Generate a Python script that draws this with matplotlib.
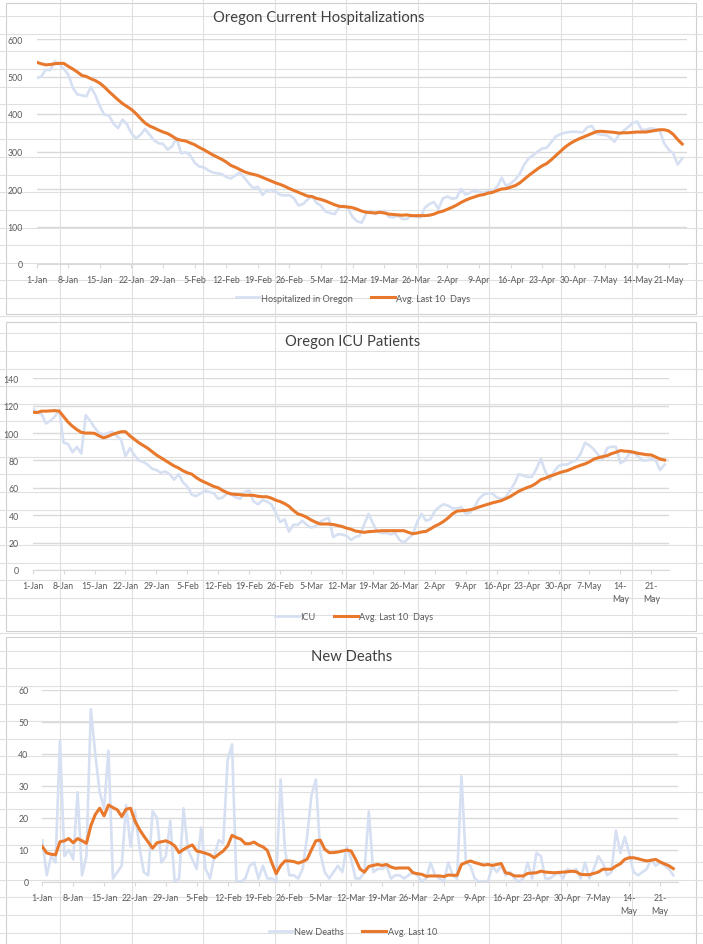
import numpy as np
import matplotlib
matplotlib.use('Agg')
from matplotlib import pyplot as plt
from matplotlib.lines import Line2D
from matplotlib.patches import Rectangle

# ---- data (1-Jan .. 24-May, one value per day) ----
tick_labels = ['1-Jan', '8-Jan', '15-Jan', '22-Jan', '29-Jan', '5-Feb', '12-Feb',
               '19-Feb', '26-Feb', '5-Mar', '12-Mar', '19-Mar', '26-Mar', '2-Apr',
               '9-Apr', '16-Apr', '23-Apr', '30-Apr', '7-May', '14-May', '21-May']

hosp_daily = [496, 500, 518, 517, 540, 534, 520, 505, 470, 452,
              450, 447, 472, 450, 420, 398, 396, 375, 362, 385,
              372, 348, 335, 345, 360, 345, 330, 322, 320, 305,
              314, 336, 295, 298, 290, 270, 260, 258, 250, 244,
              242, 240, 232, 228, 236, 244, 230, 215, 202, 206,
              184, 196, 197, 193, 184, 183, 184, 175, 156, 160,
              172, 180, 163, 155, 140, 136, 133, 150, 156, 147,
              125, 114, 110, 135, 142, 133, 138, 142, 126, 124,
              129, 120, 120, 129, 126, 124, 150, 160, 165, 147,
              175, 180, 174, 176, 200, 185, 190, 196, 192, 190,
              194, 196, 205, 230, 208, 215, 225, 240, 265, 282,
              290, 300, 308, 310, 325, 340, 346, 350, 352, 353,
              352, 351, 365, 368, 348, 345, 344, 338, 326, 345,
              355, 365, 375, 380, 358, 358, 362, 360, 356, 322,
              305, 295, 265, 282]
hosp_avg = [538, 534, 531, 532, 534, 535, 535, 527, 520, 512,
            503, 500, 494, 489, 482, 472, 460, 449, 438, 428,
            420, 412, 401, 388, 376, 368, 363, 357, 352, 348,
            341, 333, 330, 328, 323, 318, 311, 305, 298, 291,
            285, 279, 272, 263, 258, 252, 246, 242, 239, 236,
            231, 226, 221, 216, 212, 207, 201, 196, 191, 186,
            181, 180, 175, 172, 168, 163, 158, 154, 153, 152,
            150, 146, 141, 138, 137, 136, 138, 136, 133, 132,
            131, 130, 131, 129, 129, 129, 129, 130, 133, 138,
            141, 146, 151, 157, 164, 170, 175, 179, 183, 185,
            189, 191, 196, 200, 201, 205, 209, 216, 226, 236,
            245, 254, 262, 268, 278, 289, 300, 311, 320, 327,
            333, 338, 343, 348, 353, 354, 353, 352, 351, 349,
            350, 350, 351, 352, 352, 352, 354, 356, 358, 358,
            355, 346, 332, 320]

icu_daily = [118, 115, 114, 107, 109, 112, 117, 93, 92, 86,
             90, 85, 113, 109, 104, 100, 99, 100, 101, 98,
             95, 83, 89, 84, 80, 79, 77, 74, 73, 71,
             72, 70, 66, 70, 64, 61, 55, 54, 56, 58,
             57, 56, 52, 53, 56, 55, 53, 52, 57, 58,
             50, 48, 51, 50, 48, 42, 35, 37, 28, 33,
             33, 36, 33, 31, 32, 35, 37, 38, 24, 26,
             26, 25, 22, 24, 25, 33, 41, 34, 28, 27,
             27, 26, 27, 22, 20, 23, 26, 35, 41, 36,
             37, 43, 46, 48, 47, 45, 45, 46, 41, 42,
             46, 52, 55, 56, 56, 53, 52, 53, 58, 63,
             70, 69, 68, 68, 74, 81, 72, 66, 72, 76,
             77, 77, 79, 80, 85, 93, 91, 88, 84, 81,
             89, 90, 90, 78, 80, 85, 86, 83, 80, 80,
             81, 80, 73, 77]
icu_avg = [115.2, 115, 116, 116, 116.2, 116.4, 116, 112, 108, 105,
           102.5, 100.5, 100, 100, 99.8, 98, 96.5, 97.5, 99, 100,
           101, 101, 98, 95.5, 93, 91, 89, 86.5, 84, 82,
           80, 78, 76, 74.5, 72.5, 71, 70, 67.5, 65.5, 64,
           62.5, 61, 60, 58, 56.5, 55.5, 55.2, 55, 54.6, 54.6,
           54.5, 53.8, 53.5, 53.5, 52.5, 51, 50, 48.5, 46.5, 43.5,
           41, 40, 38.5, 36.5, 35, 33.6, 33.6, 33.6, 33.2, 32.5,
           31.8, 30.6, 29.8, 28.5, 28, 27.5, 28, 28.2, 28.5, 28.7,
           28.7, 28.7, 28.7, 28.7, 28.7, 27.5, 26.5, 27, 27.8, 28.2,
           30, 32, 33.5, 35.5, 38, 41, 43, 43.3, 43.5, 44,
           44.8, 46, 47, 48, 49, 49.8, 50.6, 52, 53.5, 55.5,
           57.5, 59, 60.3, 61.5, 63.5, 66, 67, 68.5, 69.5, 70.8,
           71.8, 72.6, 74, 75.3, 76.5, 77.5, 79, 81, 82, 82.8,
           83.5, 85, 86, 87.2, 86.8, 86.6, 86, 85.2, 84.7, 84.2,
           84, 82.5, 81, 80.3]

deaths_daily = [13, 2, 8, 6, 44, 8, 10, 7, 28, 2,
                8, 54, 40, 28, 23, 41, 1, 3, 5, 24,
                11, 22, 11, 3, 2, 22, 20, 6, 8, 19,
                0, 1, 23, 10, 7, 4, 17, 4, 1, 8,
                13, 12, 38, 43, 0, 0, 1, 5, 6, 1,
                5, 1, 1, 0, 32, 10, 2, 2, 1, 4,
                14, 27, 32, 9, 3, 1, 3, 5, 3, 11,
                7, 1, 1, 3, 22, 3, 4, 4, 5, 1,
                2, 2, 1, 2, 3, 2, 0, 1, 6, 2,
                1, 0, 6, 2, 1, 33, 6, 5, 1, 0,
                0, 0, 5, 3, 5, 2, 3, 1, 0, 1,
                6, 1, 9, 8, 1, 1, 2, 3, 1, 4,
                3, 4, 1, 6, 1, 4, 8, 6, 2, 3,
                16, 9, 14, 9, 3, 2, 3, 4, 7, 5,
                6, 5, 4, 2]
deaths_avg = [11, 9, 8.6, 8.4, 12.5, 12.8, 13.5, 12.2, 13.5, 12.8,
              12, 17.5, 21, 23, 20.6, 24, 23.2, 22.5, 20.4, 22.7,
              23, 19, 16.4, 14.3, 12.4, 10.5, 12.2, 12.5, 12.8, 12.2,
              11.2, 9.1, 10.1, 10.9, 11.5, 9.6, 9.3, 8.9, 8.4, 7.5,
              8.6, 9.6, 11.2, 14.5, 13.8, 13.3, 11.9, 11.9, 12.4, 11.5,
              10.9, 9.8, 6, 2.5, 5, 6.5, 6.5, 6.3, 5.8, 6.3,
              7, 10, 12.8, 13, 10.2, 9.1, 9.1, 9.3, 9.6, 9.9,
              9.6, 7, 4, 3, 4.8, 5.1, 5.4, 5.1, 5.4, 4.6,
              4.2, 4.3, 4.3, 4.3, 2.8, 2.5, 2.3, 1.7, 1.8, 1.8,
              1.8, 1.6, 2.1, 2, 2, 5.4, 6, 6.5, 6, 5.6,
              5.2, 5.4, 5.1, 5.4, 5.7, 2.8, 2.5, 1.8, 1.8, 1.8,
              2.6, 2.7, 2.8, 3.3, 3, 2.9, 2.8, 2.9, 3, 3.1,
              3.3, 3.1, 2.3, 2.2, 2.2, 2.6, 3, 3.9, 3.9, 3.9,
              4.9, 5.6, 7, 7.5, 7.5, 7.2, 6.8, 6.5, 6.7, 7,
              6.2, 5.6, 5, 4.1]

# ---- style ----
W, H = 703, 945
BLUE = '#d6e0f2'
ORANGE = '#e8792c'
GRID = '#d9d9d9'
TXT = '#595959'
TICK_FS = 6.3
plt.rcParams['font.family'] = ['Lato', 'DejaVu Sans']

fig = plt.figure(figsize=(W / 100, H / 100), dpi=100)

# spreadsheet background + chart boxes, drawn in pixel coords
bg = fig.add_axes([0, 0, 1, 1], zorder=-10)
bg.set_xlim(0, W)
bg.set_ylim(H, 0)
bg.axis('off')
for k in range(10):
    bg.axvline(60 + 71.5 * k, color='#e0e0e0', lw=0.8)
for k in range(-18, 36):
    bg.axhline(316.7 + 17.63 * k, color='#e0e0e0', lw=0.8)
for top, bottom in [(4, 315), (323, 632), (638, 948)]:
    bg.add_patch(Rectangle((6, top), 690, bottom - top, facecolor='white',
                           edgecolor='#d0d0d0', lw=0.8))


def px_axes(left, top, right, bottom):
    return fig.add_axes([left / W, 1 - bottom / H, (right - left) / W, (bottom - top) / H])


def draw_panel(ax, daily, avg, ymax, ystep, wrap_may):
    x = np.arange(len(daily))
    ax.plot(x, daily, color=BLUE, lw=1.9, solid_joinstyle='round')
    ax.plot(x, avg, color=ORANGE, lw=2.2, solid_joinstyle='round')
    ax.set_xlim(0, 144)
    ax.set_ylim(0, ymax)
    ax.set_yticks(np.arange(0, ymax + 1, ystep))
    ax.set_xticks(np.arange(0, 141, 7))
    if wrap_may:
        xl = [t.replace('-May', '-\nMay') if t in ('14-May', '21-May') else t for t in tick_labels]
    else:
        xl = tick_labels
    ax.set_xticklabels(xl, fontsize=TICK_FS, color=TXT, linespacing=1.6, va='top')
    ax.tick_params(axis='y', length=0, labelsize=TICK_FS, labelcolor=TXT, pad=10)
    ax.tick_params(axis='x', length=3, color=GRID, width=0.8, pad=5)
    ax.yaxis.grid(True, color=GRID, lw=1.0)
    ax.set_axisbelow(True)
    for s in ['top', 'right', 'left']:
        ax.spines[s].set_visible(False)
    ax.spines['bottom'].set_color(GRID)
    ax.patch.set_alpha(0)
    return [Line2D([], [], color=BLUE, lw=1.9), Line2D([], [], color=ORANGE, lw=2.2)]


panels = [
    dict(box=(36.7, 40, 686.7, 265), daily=hosp_daily, avg=hosp_avg, ymax=600, ystep=100,
         wrap=False, title='Oregon Current Hospitalizations', tpos=(319, 18),
         legend=['Hospitalized in Oregon', 'Avg. Last 10  Days'], lpos=(353, 299)),
    dict(box=(32.7, 379.3, 669, 571), daily=icu_daily, avg=icu_avg, ymax=140, ystep=20,
         wrap=True, title='Oregon ICU Patients', tpos=(353, 342),
         legend=['ICU', 'Avg. Last 10  Days'], lpos=(354, 618)),
    dict(box=(42.3, 691, 677.7, 882.7), daily=deaths_daily, avg=deaths_avg, ymax=60, ystep=10,
         wrap=True, title='New Deaths', tpos=(352, 657),
         legend=['New Deaths', 'Avg. Last 10'], lpos=(353, 933)),
]

for p in panels:
    ax = px_axes(*p['box'])
    h = draw_panel(ax, p['daily'], p['avg'], p['ymax'], p['ystep'], p['wrap'])
    fig.text(p['tpos'][0] / W, 1 - p['tpos'][1] / H, p['title'], ha='center', va='center',
             fontsize=10.6, color='#404040')
    ax.legend(h, p['legend'], loc='center', ncol=2, frameon=False, fontsize=6.6,
              labelcolor=TXT, handlelength=2.6, handletextpad=0.15, columnspacing=2.0,
              bbox_to_anchor=(p['lpos'][0] / W, 1 - p['lpos'][1] / H),
              bbox_transform=fig.transFigure)

fig.savefig('out.png', dpi=100)
